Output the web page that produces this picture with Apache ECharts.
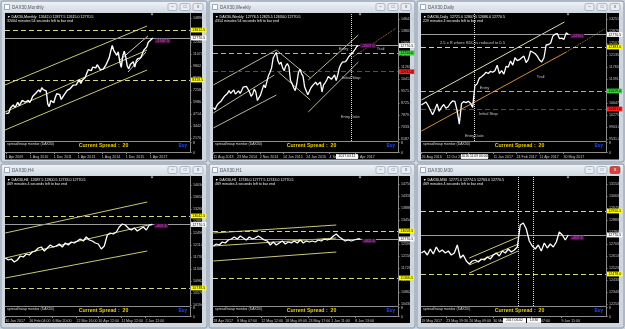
<!DOCTYPE html>
<html><head><meta charset="utf-8">
<script src="https://cdn.jsdelivr.net/npm/echarts@6/dist/echarts.min.js"></script>
<style>html,body{margin:0;padding:0;background:#cdd5df;}#c{width:625px;height:329px;}</style>
</head><body><div id="c"></div>
<script>
// ================= DATA =================
// Monthly (Apr 2009 .. Jun 2017), x = month index
const monthlyClose = [4770,4940,4810,5330,5460,5680,5410,5630,5960,
5610,5600,6150,6140,5960,5970,6150,5930,6230,6600,6690,6910,
7080,7270,7040,7510,7290,7380,7160,5780,5500,6140,6090,5900,
6460,6860,6950,6760,6260,6420,6770,6970,7220,7260,7410,7610,
7780,7740,7800,7910,8350,7960,8280,8100,8590,9030,9410,9550,
9310,9690,9560,9600,9940,9830,9410,9470,9470,9330,9980,9810,
10690,11400,11970,11450,11410,10940,11310,10260,9660,10850,11380,10740,
9800,9500,9970,10040,10260,9680,10340,10590,10510,10670,10640,11480,
11540,11830,12310,12440,12620,12770.5];
const monthlyTimeTicks = [0,16,32,48,64,80,96];
const monthlyTimeLabels = ['1 Apr 2009','1 Aug 2010','1 Dec 2011','1 Apr 2013','1 Aug 2014','1 Dec 2015','1 Apr 2017'];
const monthlyPriceTicks = [14890.5,13618.5,12346.5,11074.5,9802.5,8530.5,7258.5,5986.5,4714.5,3442.5,2170.5];
const monthlyYellow = [13612.5, 8318.5];
const monthlyTrend = [[-0.5,7788.5,94.2,14042.5],[-0.5,4926.5,94.2,11498.5],[-0.5,3018.5,94.2,9378.5]];
const monthlyTrail = [[76.2,10438.5,94.8,12982.5],[81.5,9166.5,93.5,11286.5]];

// Weekly (half-month samples, Aug 2013 .. Jun 2017)
const weeklyClose = [8400,8250,8500,8670,8700,8870,9000,9200,9170,9400,
9600,9400,9300,9650,9350,9340,9580,9400,9600,9850,9950,9900,9800,9500,9200,9350,9700,9500,8900,8850,9300,9650,10000,9800,
9800,10650,10900,11200,11900,11900,12300,11700,11450,11600,11200,11000,11350,11500,11300,10300,10100,9800,9600,10100,10850,11100,10800,10600,
9850,9800,9300,9200,9800,9950,10050,10200,10000,10000,10200,9500,10000,10150,10350,10600,10500,10400,10550,10700,10300,10700,11200,11450,
11600,11700,11650,11800,12000,12050,12200,12300,12500,12700,12770.5];
const weeklyTimeTicks = [0,15,29.5,44.2,59,73.7,90];
const weeklyTimeLabels = ['11 Aug 2013','23 Mar 2014','2 Nov 2014','14 Jun 2015','24 Jan 2016','4 Sep 2016','30 Apr 2017'];
const weeklyPriceTicks = [14647.0,13801.0,12955.0,12109.0,11263.0,10417.0,9571.0,8725.0,7879.0,7033.0,6187.0];
const weeklyEntry = [12250.0];
const weeklyStop = [10932.0];
const weeklyTrend = [[0,9994,40,12461.5],[0,8020,38.7,10699],[0,6962.5,40,9289],[40,12461.5,61.6,10487.5],[41.3,10910.5,61.6,8936.5],[60.3,10346.5,92.1,13519],[60.3,8090.5,92.1,11615.5]];
const weeklyTrendDotted = [[87.6,11897.5,116.2,14012.5]];
const weeklyEntryDate = [87.4];
const weeklyNotes = [['Entry',79.4,12510],['Trail',103.5,12532],['Initial Stop',81.3,10487],['Entry Date',80.6,7738]];

// Daily (every 3rd session, Aug 2016 .. Jun 2017)
const dailyClose = [10590,10630,10680,10570,10430,10280,10440,10620,10390,10510,
10600,10490,10530,10640,10710,10700,10420,9990,10630,10690,
10660,10700,10640,10510,11180,11240,11420,11460,11520,11600,
11560,11630,11600,11650,11820,11560,11650,11540,11780,11760,
11950,11820,12050,11960,11990,12050,12100,11900,12000,12260,
12220,12180,12100,11980,11920,12050,12450,12460,12500,12720,
12780,12800,12640,12660,12620,12820,12770.5];
const dailyTimeTicks = [0,11.2,21.1,32.3,42.7,53,63.8];
const dailyTimeLabels = ['26 Aug 2016','12 Oct 2016','25 Nov 2016','11 Jan 2017','24 Feb 2017','11 Apr 2017','30 May 2017'];
const dailyPriceTicks = [13251.0,12879.0,12507.0,12135.0,11763.0,11391.0,11019.0,10647.0,10275.0,9903.0,9531.0];
const dailyYellow = [12383.0];
const dailyGreen = [11019.0];
const dailyRed = [10461.0];
const dailyUpper = [[0,10740,64.2,13158]];
const dailyLower = [[0,9779,65.1,12228]];
const dailyLowerExt = [[65.1,12228,82.2,12941]];
const dailyEntryDate = [23.8];
const dailyNotes = [['2.5 x R where SDC is reduced to 0.5',8.1,12498],['Trail',51.6,11444],['Entry',26.0,11103],['Initial Stop',25.6,10306],['Entry Date',19.3,9633]];

// H4
const h4Close = [11698.5,11634.5,11666.5,11570.5,11634.5,11762.5,11730.5,11826.5,11794.5,11890.5,
11922.5,12018.5,12050.5,11922.5,12018.5,12114.5,12050.5,12082.5,12146.5,12050.5,
12178.5,12114.5,12210.5,12178.5,12242.5,12306.5,12242.5,12370.5,12274.5,12242.5,
12178.5,12146.5,11986.5,12082.5,12434.5,12498.5,12466.5,12530.5,12690.5,12786.5,
12754.5,12658.5,12594.5,12658.5,12562.5,12626.5,12690.5,12594.5,12754.5,12770.5];
const h4TimeTicks = [0,8,15.7,23.7,31,38.7,46.7];
const h4TimeLabels = ['30 Jan 2017','16 Feb 04:00','6 Mar 20:00','22 Mar 16:00','10 Apr 12:00','11 May 12:00','2 Jun 12:00'];
const h4PriceTicks = [14034.5,13650.5,13266.5,12882.5,12498.5,12114.5,11730.5,11346.5,10962.5,10578.5,10194.5];
const h4Yellow = [13042.5, 10738.5];
const h4Trend = [[0,12498.5,47.3,13490.5],[0,11698.5,47.7,12754.5],[0,11058.5,47.3,11922.5]];

// H1
const h1Close = [12518.5,12590.5,12554.5,12662.5,12626.5,12734.5,12770.5,12842.5,12770.5,12878.5,
12806.5,12734.5,12842.5,12770.5,12806.5,12878.5,12806.5,12734.5,12698.5,12554.5,
12662.5,12554.5,12626.5,12698.5,12590.5,12662.5,12626.5,12698.5,12626.5,12734.5,
12626.5,12698.5,12662.5,12698.5,12662.5,12734.5,12698.5,12770.5,12734.5,12770.5,
12878.5,12950.5,12842.5,12770.5,12698.5,12734.5,12698.5,12734.5,12770.5,12770.5];
const h1TimeTicks = [0,8,16,24,31.7,39.3,47.3];
const h1TimeLabels = ['28 Apr 2017','8 May 07:00','12 May 12:00','18 May 09:00','23 May 17:00','1 Jun 11:00','8 Jun 13:00'];
const h1PriceTicks = [14750.5,14318.5,13886.5,13454.5,13022.5,12590.5,12158.5,11726.5,11294.5,10862.5,10430.5];
const h1Yellow = [13058.5, 11366.5];
const h1Trend = [[0,12986.5,41,13274.5],[0,12518.5,41,12806.5],[0,11978.5,41,12302.5]];

// M30
const m30Close = [12635.5,12650.5,12620.5,12665.5,12628.0,12680.5,12643.0,12658.0,12635.5,12650.5,
12620.5,12635.5,12695.5,12598.0,12620.5,12575.5,12553.0,12575.5,12583.0,12568.0,
12590.5,12583.0,12605.5,12590.5,12620.5,12635.5,12613.0,12650.5,12635.5,12665.5,
12643.0,12658.0,12680.5,12845.5,12860.5,12815.5,12725.5,12688.0,12665.5,12695.5,
12650.5,12710.5,12673.0,12703.0,12680.5,12718.0,12793.0,12770.5,12733.0,12770.5];
const m30TimeTicks = [0,8.3,16,24,36.6,46.7];
const m30TimeLabels = ['19 May 2017','23 May 19:30','26 May 09:00','30 May 14:30','5 Jun 07:00','9 Jun 11:00'];
const m30PriceTicks = [13153.0,13063.0,12973.0,12883.0,12793.0,12703.0,12613.0,12523.0,12433.0,12343.0,12253.0];
const m30Yellow = [12950.5, 12478.0];
const m30Trend = [[16,12598,32.3,12755.5],[16,12545.5,32.3,12703],[16,12485.5,32.3,12650.5]];
const m30Marks = [32.3, 37.3];

const panelTitles = ['DAX30,Monthly','DAX30,Weekly','DAX30,Daily','DAX30,H4','DAX30,H1','DAX30,M30'];
const panelHeads = [
 ['▼ DAX30,Monthly  12642.0 12877.5 12615.0 12770.5','32004 minutes 54 seconds left to bar end'],
 ['▼ DAX30,Weekly  12776.5 12825.5 12634.0 12770.5','4314 minutes 54 seconds left to bar end'],
 ['▼ DAX30,Daily  12721.0 12807.5 12686.0 12770.5','229 minutes 4 seconds left to bar end'],
 ['▼ DAX30,H4  12687.5 12800.5 12733.0 12770.5','469 minutes 4 seconds left to bar end'],
 ['▼ DAX30,H1  12746.0 12777.5 12743.0 12770.5','469 minutes 4 seconds left to bar end'],
 ['▼ DAX30,M30  12771.0 12774.5 12763.0 12770.5','469 minutes 4 seconds left to bar end']
];
const panelTags = ['-1507.5','-1507.5','-228.0','-402.6','-402.6','-402.6'];
const spreadText = 'Current Spread :  20';

// ================= STYLE / LAYOUT =================
const FF = '"Liberation Sans", Arial, sans-serif';
const AX = '#8c8c8c', TX = '#c8c8c8';
const LV = {
  yellow:{line:'#d4d48a', type:[5,3], tag:'#ffff00'},
  green:{line:'#8fc88f', type:[5,3], tag:'#39d239'},
  red:{line:'#c81e1e', type:[5,3], tag:'#ff2020'},
  current:{line:'#9c9c9c', type:'solid', tag:'#ffffff'}
};
const TS = {
  khaki:{color:'#c8c878', type:'solid'},
  grey:{color:'#b8b898', type:'solid'},
  pale:{color:'#dcdcb0', type:'solid'},
  orange:{color:'#d08c3c', type:'solid'},
  orangeDot:{color:'#b07838', type:'dotted'},
  white:{color:'#d0d0d0', type:'solid'}
};

const panels = [
 {ox:0,oy:0,w:208,h:163,mainH:128,subH:10,lw:1.4,close:monthlyClose,xMin:-0.5,xMax:122.83,yMin:1852.5,yMax:15420.5,
  priceTicks:monthlyPriceTicks,timeTicks:monthlyTimeTicks,timeLabels:monthlyTimeLabels,
  levels:[[monthlyYellow,'yellow']],trends:[[monthlyTrend,'khaki'],[monthlyTrail,'white']],vlines:[],notes:[],tagDy:3,boxes:[]},
 {ox:208,oy:0,w:208,h:163,mainH:128,subH:10,lw:1.3,close:weeklyClose,xMin:-0.2,xMax:117.26,yMin:6046,yMax:15070,
  priceTicks:weeklyPriceTicks,timeTicks:weeklyTimeTicks,timeLabels:weeklyTimeLabels,
  levels:[[weeklyEntry,'green'],[weeklyStop,'red']],trends:[[weeklyTrend,'grey'],[weeklyTrendDotted,'orangeDot']],vlines:weeklyEntryDate,notes:weeklyNotes,tagDy:0,
  boxes:[[128,22,'2017.03.12']]},
 {ox:416,oy:0,w:209,h:163,mainH:128,subH:10,lw:1.3,close:dailyClose,xMin:-0.2,xMax:82.87,yMin:9469,yMax:13437,
  priceTicks:dailyPriceTicks,timeTicks:dailyTimeTicks,timeLabels:dailyTimeLabels,
  levels:[[dailyYellow,'yellow'],[dailyGreen,'green'],[dailyRed,'red']],trends:[[dailyUpper,'pale'],[dailyLower,'orange'],[dailyLowerExt,'orangeDot']],vlines:dailyEntryDate,notes:dailyNotes,tagDy:1.5,
  boxes:[[45,27,'2016.11.09 00:00']]},
 {ox:0,oy:163,w:208,h:166,mainH:130,subH:9,lw:1.3,close:h4Close,xMin:-0.1,xMax:61.57,yMin:10162.5,yMax:14322.5,
  priceTicks:h4PriceTicks,timeTicks:h4TimeTicks,timeLabels:h4TimeLabels,
  levels:[[h4Yellow,'yellow']],trends:[[h4Trend,'khaki']],vlines:[],notes:[],tagDy:1.5,boxes:[]},
 {ox:208,oy:163,w:208,h:166,mainH:130,subH:9,lw:1.3,close:h1Close,xMin:-0.1,xMax:61.57,yMin:10358.5,yMax:15038.5,
  priceTicks:h1PriceTicks,timeTicks:h1TimeTicks,timeLabels:h1TimeLabels,
  levels:[[h1Yellow,'yellow']],trends:[[h1Trend,'khaki']],vlines:[],notes:[],tagDy:2,boxes:[]},
 {ox:416,oy:163,w:209,h:166,mainH:130,subH:9,lw:1.3,close:m30Close,xMin:-0.1,xMax:61.57,yMin:12238,yMax:13213,
  priceTicks:m30PriceTicks,timeTicks:m30TimeTicks,timeLabels:m30TimeLabels,
  levels:[[m30Yellow,'yellow']],trends:[[m30Trend,'khaki']],vlines:m30Marks,notes:[],tagDy:3,active:true,
  boxes:[[87,23,'2017.06.02'],[111,14,'13:30']]}
];

const grids=[], xAxes=[], yAxes=[], series=[], G=[];
function rect(x,y,w,h,style,z,r){G.push({type:'rect',shape:{x:x,y:y,width:w,height:h,r:r||0},style:style,z:z,silent:true});}
function text(x,y,t,style,z){G.push({type:'text',x:x,y:y,style:Object.assign({text:t,fontFamily:FF},style),z:z,silent:true});}
function fmtTime(ticks,labels){return function(v){for(let i=0;i<ticks.length;i++){if(Math.abs(ticks[i]-v)<1e-6)return labels[i];}return '';};}

panels.forEach(function(p,i){
  const ox=p.ox, oy=p.oy, w=p.w, h=p.h;
  const mainTop=oy+13, subTop=mainTop+p.mainH+1.5, gi=grids.length;
  rect(ox+1,oy+1,w-2,h-2,{fill:'#cfd7e1',stroke:'#8f9aa8',lineWidth:1},-20,2);
  rect(ox+2,oy+2,w-4,10,{fill:{type:'linear',x:0,y:0,x2:0,y2:1,colorStops:[{offset:0,color:'#eef2f6'},{offset:1,color:'#d2dae4'}]}},-19);
  rect(ox+4.5,oy+4.5,5,5,{fill:'#ffffff',stroke:'#6b7d95',lineWidth:0.6},-18);
  text(ox+12,oy+7.3,panelTitles[i],{fill:'#4e5663',fontSize:4.6,verticalAlign:'middle'},-18);
  [[w-40,9,'–'],[w-28,10,'□'],[w-15,10,'x']].forEach(function(b,j){
    const red = p.active && j===2;
    rect(ox+b[0],oy+3.5,b[1],7,{fill:red?'#d9453a':'#e9edf2',stroke:red?'#8c2a22':'#8a94a3',lineWidth:0.6},-18,1.5);
    text(ox+b[0]+b[1]/2,oy+7,b[2],{fill:red?'#ffffff':'#505a66',fontSize:4.5,align:'center',verticalAlign:'middle'},-17);
  });
  rect(ox+5,mainTop,w-11,(oy<100?146.5:147),{fill:'#000000'},-17);
  G.push({type:'polygon',shape:{points:[[ox+150.5,mainTop+0.5],[ox+153.5,mainTop+0.5],[ox+152,mainTop+2.5]]},style:{fill:'#c8c8c8'},z:-5,silent:true});
  text(ox+7,oy+16.6,panelHeads[i][0],{fill:'#f0f0f0',fontSize:3.6,verticalAlign:'middle'},-5);
  text(ox+7,oy+21.3,panelHeads[i][1],{fill:'#f0f0f0',fontSize:3.6,verticalAlign:'middle'},-5);
  text(ox+7,subTop+2,'spread/swap monitor (DAX30)',{fill:'#dcdcdc',fontSize:3.5,verticalAlign:'middle'},-5);
  text(ox+103.5,subTop+3.3,spreadText,{fill:'#f0d000',fontSize:5.2,fontWeight:'bold',align:'center',verticalAlign:'middle'},-5);
  text(ox+178.5,subTop+3.2,'Buy',{fill:'#2448ff',fontSize:4.5,fontWeight:'bold',verticalAlign:'middle'},-5);
  const labelY = subTop+p.subH+4;
  p.boxes.forEach(function(b){
    rect(ox+b[0],labelY-2.4,b[1],4.8,{fill:'#ffffff'},50);
    text(ox+b[0]+b[1]/2,labelY,b[2],{fill:'#000000',fontSize:3.4,align:'center',verticalAlign:'middle'},51);
  });

  grids.push({left:ox+5,top:mainTop,width:185,height:p.mainH,show:false});
  grids.push({left:ox+5,top:subTop,width:185,height:p.subH,show:false});
  xAxes.push({gridIndex:gi,type:'value',min:p.xMin,max:p.xMax,
    axisLine:{show:true,onZero:false,lineStyle:{color:AX,width:1}},axisTick:{show:false},axisLabel:{show:false},splitLine:{show:false}});
  xAxes.push({gridIndex:gi+1,type:'value',min:p.xMin,max:p.xMax,
    axisLine:{show:true,onZero:false,lineStyle:{color:AX,width:1}},
    axisTick:{show:true,customValues:p.timeTicks,length:1.5,lineStyle:{color:AX}},
    axisLabel:{show:true,customValues:p.timeTicks,formatter:fmtTime(p.timeTicks,p.timeLabels),align:'left',fontSize:3.6,color:TX,margin:2,fontFamily:FF},
    splitLine:{show:false}});
  yAxes.push({gridIndex:gi,type:'value',position:'right',min:p.yMin,max:p.yMax,
    axisLine:{show:true,onZero:false,lineStyle:{color:AX,width:1}},
    axisTick:{show:true,customValues:p.priceTicks,length:1.5,lineStyle:{color:AX}},
    axisLabel:{show:true,customValues:p.priceTicks,formatter:function(v){return v.toFixed(1);},fontSize:3.6,color:TX,margin:3,fontFamily:FF},
    splitLine:{show:false}});
  yAxes.push({gridIndex:gi+1,type:'value',position:'right',min:0,max:8,
    axisLine:{show:true,onZero:false,lineStyle:{color:AX,width:1}},
    axisTick:{show:true,customValues:[0,8],length:1.5,lineStyle:{color:AX}},
    axisLabel:{show:true,customValues:[0,8],fontSize:3.6,color:TX,margin:3,fontFamily:FF},
    splitLine:{show:false}});

  const last = p.close[p.close.length-1];
  const ml = [];
  p.levels.forEach(function(l){
    const st = LV[l[1]];
    l[0].forEach(function(v){
      ml.push({yAxis:v,lineStyle:{color:st.line,type:st.type,width:1},
        label:{show:true,position:'end',formatter:v.toFixed(1),color:'#000',backgroundColor:st.tag,fontSize:3.6,padding:[0.4,1.2],distance:1,fontFamily:FF}});
    });
  });
  ml.push({yAxis:last,lineStyle:{color:LV.current.line,type:'solid',width:1},
    label:{show:true,position:'end',formatter:last.toFixed(1),color:'#000',backgroundColor:LV.current.tag,fontSize:3.6,padding:[0.4,1.2],distance:1,fontFamily:FF}});
  p.vlines.forEach(function(v){
    ml.push({xAxis:v,lineStyle:{color:'#e0e0e0',type:'dotted',width:1},label:{show:false}});
  });

  const trendData=[];
  p.trends.forEach(function(t){
    const st=TS[t[1]];
    t[0].forEach(function(s){
      trendData.push({coords:[[s[0],s[1]],[s[2],s[3]]],lineStyle:{color:st.color,type:st.type,width:1,opacity:1}});
    });
  });
  series.push({type:'lines',coordinateSystem:'cartesian2d',xAxisIndex:gi,yAxisIndex:gi,silent:true,z:3,animation:false,
    lineStyle:{opacity:1,width:1,curveness:0},data:trendData});

  series.push({type:'line',xAxisIndex:gi,yAxisIndex:gi,data:p.close.map(function(v,k){return [k,v];}),
    symbol:'none',silent:true,animation:false,z:5,lineStyle:{color:'#ffffff',width:p.lw},
    endLabel:{show:true,formatter:panelTags[i],color:'#e64ee6',backgroundColor:'#40103f',fontSize:3.8,padding:[0.3,1.5],distance:2,offset:[0,p.tagDy],fontFamily:FF},
    markLine:{silent:true,symbol:['none','none'],animation:false,data:ml}});

  if(p.notes.length){
    series.push({type:'scatter',xAxisIndex:gi,yAxisIndex:gi,symbolSize:1,itemStyle:{color:'rgba(0,0,0,0)'},silent:true,z:6,animation:false,
      data:p.notes.map(function(n){return {name:n[0],value:[n[1],n[2]]};}),
      label:{show:true,position:'right',distance:0,formatter:'{b}',color:'#e8e8e8',fontSize:4,fontFamily:FF}});
  }
});

const chart = echarts.init(document.getElementById('c'),null,{renderer:'canvas'});
chart.setOption({
  backgroundColor:'#cdd5df',
  animation:false,
  textStyle:{fontFamily:FF},
  grid:grids, xAxis:xAxes, yAxis:yAxes, series:series,
  graphic:{elements:G}
});
</script>
</body></html>
